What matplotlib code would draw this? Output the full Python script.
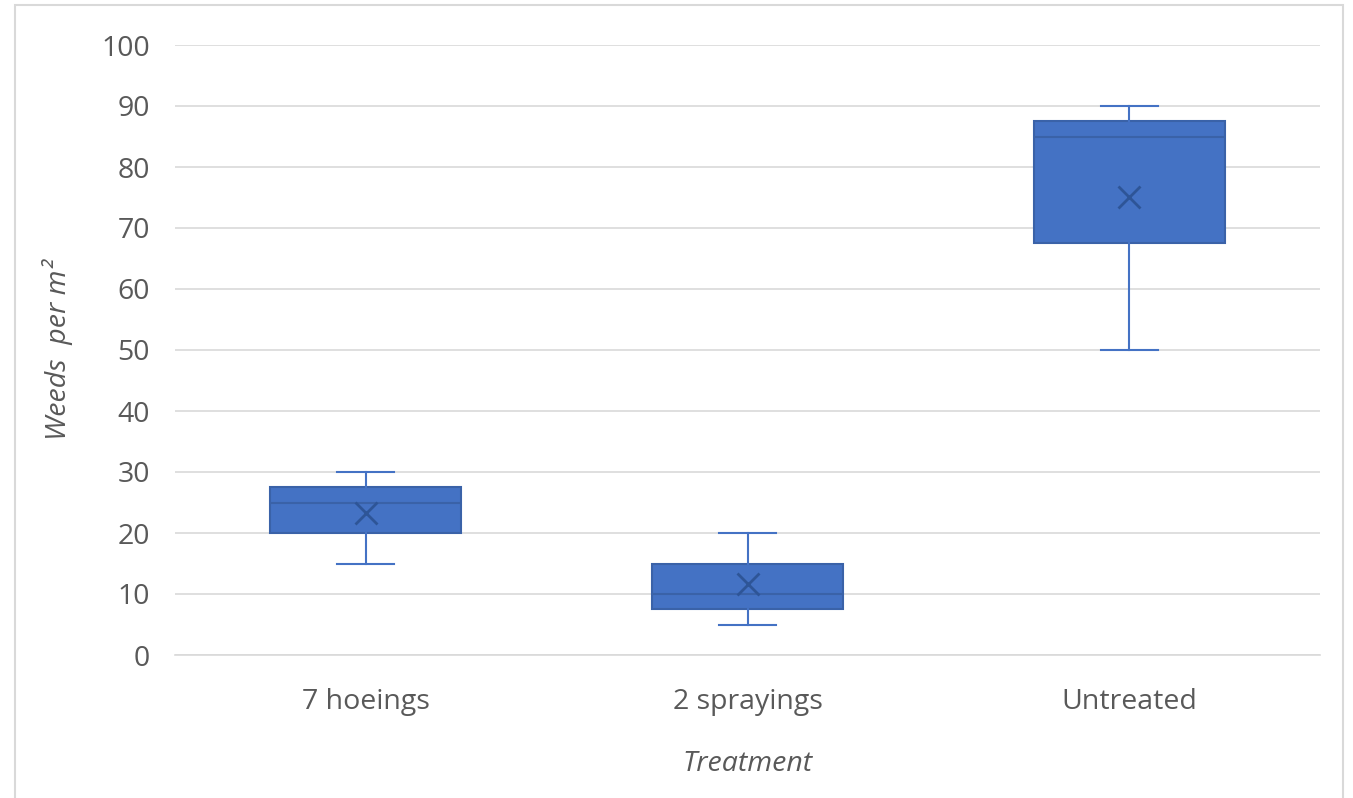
import matplotlib.pyplot as plt
from matplotlib.patches import Rectangle

# weed counts per treatment (box plot summary)
treatments = ['7 hoeings', '2 sprayings', 'Untreated']
whisker_low = [15, 5, 50]
q1 = [20, 7.5, 67.5]
median = [25, 10, 85]
q3 = [27.5, 15, 87.5]
whisker_high = [30, 20, 90]
means = [23.3, 11.7, 75]

plt.rcParams['font.family'] = ['Open Sans', 'DejaVu Sans']

fig = plt.figure(figsize=(13.53, 7.98), dpi=100)
ax = fig.add_axes([175 / 1353, 1 - 655 / 798, 1145 / 1353, 610 / 798])

stats = []
for i in range(len(treatments)):
    stats.append({'label': treatments[i], 'whislo': whisker_low[i], 'q1': q1[i],
                  'med': median[i], 'q3': q3[i], 'whishi': whisker_high[i],
                  'mean': means[i], 'fliers': []})

blue = '#4472C4'
dark = '#3A62A8'
ax.bxp(stats, positions=[0, 1, 2], widths=0.5, patch_artist=True, showmeans=True,
       boxprops=dict(facecolor=blue, edgecolor=dark, linewidth=1.5),
       medianprops=dict(color=dark, linewidth=1.5),
       whiskerprops=dict(color=blue, linewidth=1.5),
       capprops=dict(color=blue, linewidth=1.5),
       capwidths=0.15,
       meanprops=dict(marker='x', markeredgecolor='#2E5597', markersize=16, markeredgewidth=2),
       zorder=3)

ax.set_xlim(-0.5, 2.5)
ax.set_ylim(0, 100)
ax.set_yticks(range(0, 101, 10))
ax.grid(axis='y', color='#D9D9D9', linewidth=1.2, zorder=0)
ax.set_axisbelow(True)
for side in ['top', 'right', 'left']:
    ax.spines[side].set_visible(False)
ax.spines['bottom'].set_color('#D9D9D9')
ax.spines['bottom'].set_linewidth(1.2)
ax.tick_params(length=0, labelsize=20.5, colors='#595959', pad=18)
ax.tick_params(axis='x', pad=24)

ax.set_ylabel('Weeds  per m²', fontsize=20.5, style='italic', color='#595959', labelpad=20)
ax.set_xlabel('Treatment', fontsize=20.5, style='italic', color='#595959', labelpad=24)

# chart border
fig.patches.append(Rectangle((15 / 1353, -0.01), 1328 / 1353, 1 - 5 / 798 + 0.01,
                             transform=fig.transFigure, fill=False,
                             edgecolor='#D9D9D9', linewidth=1.5))

fig.savefig('out.png', dpi=100)
